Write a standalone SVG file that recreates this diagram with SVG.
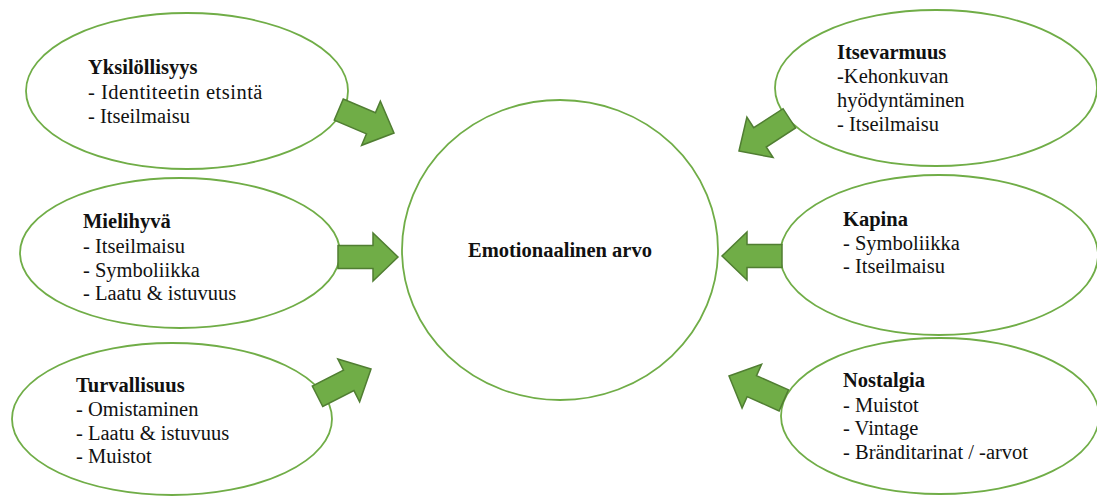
<svg xmlns="http://www.w3.org/2000/svg" width="1097" height="497" viewBox="0 0 1097 497">
  <defs>
    <style>
      .bubble { fill: #ffffff; stroke: #70AD47; stroke-width: 1.8; }
      .label { font-family: "Liberation Serif", "Times New Roman", serif; font-size: 20.5px; fill: #111111; }
      .title { font-weight: bold; }
      .arrow { fill: #70AD47; stroke: #507E32; stroke-width: 1.5; stroke-linejoin: miter; }
    </style>
    <!-- block arrow, tip at the origin, pointing along +x -->
    <path id="block-arrow" d="M0,0 L-25,-24 L-25,-11.5 L-60,-11.5 L-60,11.5 L-25,11.5 L-25,24 Z"/>
  </defs>

  <rect width="1097" height="497" fill="#ffffff"/>

  <!-- central value -->
  <g id="node-emotionaalinen-arvo">
    <ellipse class="bubble" cx="560" cy="250" rx="158" ry="150"/>
    <text class="label title" x="560" y="257" text-anchor="middle">Emotionaalinen arvo</text>
  </g>

  <!-- left column -->
  <g id="node-yksilollisyys">
    <ellipse class="bubble" cx="187" cy="91" rx="161" ry="78"/>
    <text class="label" x="88">
      <tspan class="title" x="88" y="74">Yksilöllisyys</tspan>
      <tspan x="88" y="99" letter-spacing="0.5">- Identiteetin etsintä</tspan>
      <tspan x="88" y="123">- Itseilmaisu</tspan>
    </text>
  </g>

  <g id="node-mielihyva">
    <ellipse class="bubble" cx="180" cy="253" rx="160" ry="75"/>
    <text class="label" x="83">
      <tspan class="title" x="83" y="228">Mielihyvä</tspan>
      <tspan x="83" y="253">- Itseilmaisu</tspan>
      <tspan x="83" y="277">- Symboliikka</tspan>
      <tspan x="83" y="300">- Laatu &amp; istuvuus</tspan>
    </text>
  </g>

  <g id="node-turvallisuus">
    <ellipse class="bubble" cx="172" cy="419" rx="160" ry="76"/>
    <text class="label" x="76">
      <tspan class="title" x="76" y="392">Turvallisuus</tspan>
      <tspan x="76" y="416">- Omistaminen</tspan>
      <tspan x="76" y="440">- Laatu &amp; istuvuus</tspan>
      <tspan x="76" y="463">- Muistot</tspan>
    </text>
  </g>

  <!-- right column -->
  <g id="node-itsevarmuus">
    <ellipse class="bubble" cx="936" cy="88" rx="161" ry="78"/>
    <text class="label" x="837">
      <tspan class="title" x="837" y="59">Itsevarmuus</tspan>
      <tspan x="837" y="83">-Kehonkuvan</tspan>
      <tspan x="837" y="107">hyödyntäminen</tspan>
      <tspan x="837" y="131">- Itseilmaisu</tspan>
    </text>
  </g>

  <g id="node-kapina">
    <ellipse class="bubble" cx="939" cy="255" rx="159" ry="80"/>
    <text class="label" x="843">
      <tspan class="title" x="843" y="226">Kapina</tspan>
      <tspan x="843" y="250">- Symboliikka</tspan>
      <tspan x="843" y="273">- Itseilmaisu</tspan>
    </text>
  </g>

  <g id="node-nostalgia">
    <ellipse class="bubble" cx="940" cy="416" rx="159" ry="78"/>
    <text class="label" x="843">
      <tspan class="title" x="843" y="387">Nostalgia</tspan>
      <tspan x="843" y="412">- Muistot</tspan>
      <tspan x="843" y="435">- Vintage</tspan>
      <tspan x="843" y="459">- Bränditarinat / -arvot</tspan>
    </text>
  </g>

  <!-- block arrows pointing into the central value -->
  <g id="connectors">
    <use href="#block-arrow" class="arrow" transform="translate(394,133) rotate(23)"/>
    <use href="#block-arrow" class="arrow" transform="translate(398,257)"/>
    <use href="#block-arrow" class="arrow" transform="translate(371,369) rotate(-27)"/>
    <use href="#block-arrow" class="arrow" transform="translate(739,151) rotate(147)"/>
    <use href="#block-arrow" class="arrow" transform="translate(722,256) rotate(180)"/>
    <use href="#block-arrow" class="arrow" transform="translate(729,376) rotate(204)"/>
  </g>
</svg>
